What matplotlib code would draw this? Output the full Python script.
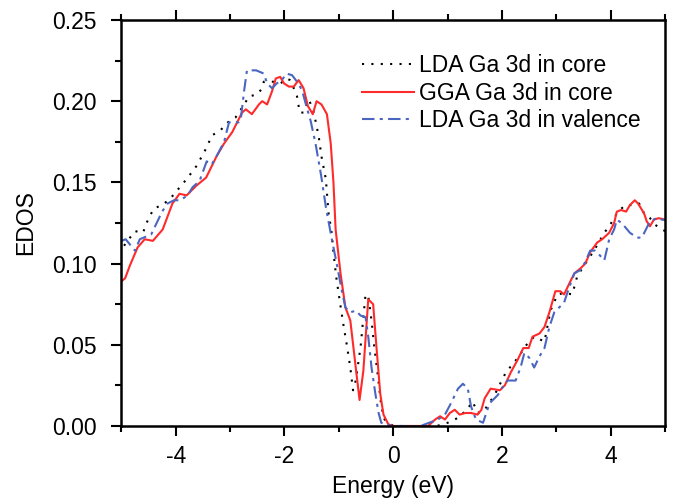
import numpy as np
import matplotlib.pyplot as plt
from matplotlib.ticker import MultipleLocator

# EDOS vs energy for three calculation settings

plt.rcParams['font.family'] = ['Liberation Sans', 'DejaVu Sans']
plt.rcParams['axes.unicode_minus'] = False

# LDA, Ga 3d in core (black dotted)
lda_core_e = [-4.95, -4.84, -4.75, -4.60, -4.55, -4.48, -4.40, -4.25, -4.10, -3.95, -3.80,
              -3.62, -3.47, -3.33, -3.18, -3.04, -2.90, -2.78, -2.65, -2.52, -2.43, -2.38,
              -2.25, -2.16, -2.07, -1.96, -1.90, -1.83, -1.77, -1.72, -1.65, -1.55, -1.46,
              -1.37, -1.32, -1.24, -1.19, -1.14, -1.10, -1.05, -0.98, -0.92, -0.85, -0.79,
              -0.74, -0.69, -0.60, -0.55, -0.51, -0.46, -0.40, -0.35, -0.28, -0.22, -0.16,
              0.0, 0.5, 0.8, 1.0, 1.19, 1.35, 1.46, 1.55, 1.68, 1.86, 2.07, 2.29, 2.45, 2.59,
              2.78, 2.89, 3.02, 3.15, 3.29, 3.38, 3.53, 3.69, 3.88, 3.99, 4.11, 4.26, 4.40,
              4.52, 4.61, 4.72, 4.81, 4.94, 5.0]
lda_core_v = [0.111, 0.116, 0.120, 0.119, 0.124, 0.129, 0.134, 0.136, 0.140, 0.146, 0.152,
              0.160, 0.169, 0.179, 0.182, 0.187, 0.190, 0.196, 0.203, 0.204, 0.207, 0.212,
              0.212, 0.212, 0.211, 0.214, 0.213, 0.208, 0.203, 0.193, 0.193, 0.201, 0.193,
              0.178, 0.166, 0.152, 0.131, 0.121, 0.107, 0.092, 0.076, 0.063, 0.049, 0.036,
              0.022, 0.028, 0.049, 0.067, 0.081, 0.080, 0.065, 0.049, 0.030, 0.012, 0.004,
              0.0, 0.0, 0.0, 0.002, 0.005, 0.010, 0.015, 0.008, 0.010, 0.019, 0.033, 0.042,
              0.050, 0.055, 0.052, 0.071, 0.081, 0.082, 0.081, 0.092, 0.100, 0.108, 0.119,
              0.124, 0.131, 0.136, 0.136, 0.137, 0.131, 0.128, 0.124, 0.121, 0.120]

# GGA, Ga 3d in core (red solid)
gga_core_e = [-5.0, -4.93, -4.84, -4.70, -4.57, -4.42, -4.24, -4.06, -3.93, -3.80, -3.62,
              -3.44, -3.25, -3.11, -2.96, -2.78, -2.71, -2.60, -2.47, -2.41, -2.32, -2.23,
              -2.16, -2.08, -2.01, -1.92, -1.83, -1.74, -1.65, -1.57, -1.48, -1.41, -1.32,
              -1.22, -1.15, -1.10, -1.06, -0.97, -0.88, -0.79, -0.69, -0.62, -0.55, -0.46,
              -0.37, -0.31, -0.24, -0.18, -0.09, 0.0, 0.4, 0.64, 0.77, 0.86, 0.95, 1.04,
              1.13, 1.22, 1.32, 1.43, 1.55, 1.62, 1.68, 1.79, 1.96, 2.05, 2.16, 2.29, 2.39,
              2.49, 2.56, 2.69, 2.78, 2.87, 2.98, 3.07, 3.14, 3.24, 3.33, 3.44, 3.53, 3.62,
              3.75, 3.84, 3.97, 4.06, 4.11, 4.19, 4.28, 4.35, 4.44, 4.50, 4.61, 4.66, 4.72,
              4.79, 4.88, 5.0]
gga_core_v = [0.089, 0.091, 0.099, 0.110, 0.115, 0.114, 0.121, 0.137, 0.143, 0.142, 0.148,
              0.153, 0.166, 0.174, 0.181, 0.193, 0.195, 0.192, 0.198, 0.200, 0.198, 0.206,
              0.214, 0.215, 0.211, 0.209, 0.209, 0.213, 0.208, 0.197, 0.192, 0.200, 0.198,
              0.192, 0.174, 0.150, 0.121, 0.094, 0.073, 0.065, 0.036, 0.016, 0.034, 0.078,
              0.075, 0.049, 0.020, 0.007, 0.001, 0.0, 0.0, 0.0, 0.004, 0.006, 0.004, 0.008,
              0.010, 0.007, 0.008, 0.008, 0.007, 0.010, 0.017, 0.023, 0.022, 0.025, 0.033,
              0.041, 0.048, 0.048, 0.055, 0.057, 0.061, 0.070, 0.083, 0.083, 0.081, 0.088,
              0.094, 0.097, 0.100, 0.107, 0.113, 0.115, 0.119, 0.125, 0.132, 0.133, 0.132,
              0.136, 0.139, 0.137, 0.131, 0.126, 0.123, 0.127, 0.128, 0.127]

# LDA, Ga 3d in valence (blue dash-dot)
lda_val_e = [-5.0, -4.92, -4.75, -4.66, -4.45, -4.35, -4.25, -4.15, -4.03, -3.92, -3.78,
             -3.69, -3.56, -3.43, -3.34, -3.25, -3.11, -3.02, -2.93, -2.84, -2.80, -2.74,
             -2.69, -2.52, -2.38, -2.32, -2.23, -2.14, -2.05, -1.96, -1.86, -1.77, -1.68,
             -1.59, -1.52, -1.43, -1.33, -1.24, -1.13, -1.04, -0.95, -0.88, -0.79, -0.69,
             -0.60, -0.51, -0.46, -0.40, -0.33, -0.27, -0.22, 0.0, 0.5, 0.82, 0.95, 1.06,
             1.19, 1.28, 1.37, 1.43, 1.52, 1.65, 1.77, 1.92, 2.01, 2.10, 2.25, 2.34, 2.41,
             2.50, 2.59, 2.69, 2.78, 2.87, 2.96, 3.05, 3.14, 3.24, 3.33, 3.44, 3.53, 3.62,
             3.71, 3.80, 3.88, 3.97, 4.06, 4.11, 4.20, 4.35, 4.48, 4.57, 4.66, 4.72, 4.84,
             4.95, 5.0]
lda_val_v = [0.114, 0.115, 0.108, 0.115, 0.118, 0.125, 0.132, 0.137, 0.139, 0.139, 0.142,
             0.147, 0.151, 0.163, 0.161, 0.166, 0.175, 0.187, 0.187, 0.187, 0.190, 0.207,
             0.219, 0.219, 0.217, 0.211, 0.208, 0.211, 0.213, 0.217, 0.216, 0.212, 0.207,
             0.196, 0.188, 0.174, 0.155, 0.135, 0.115, 0.100, 0.084, 0.073, 0.070, 0.071,
             0.068, 0.067, 0.055, 0.036, 0.020, 0.008, 0.002, 0.0, 0.0, 0.004, 0.007, 0.014,
             0.023, 0.026, 0.023, 0.012, 0.004, 0.002, 0.014, 0.019, 0.024, 0.028, 0.028,
             0.036, 0.045, 0.042, 0.036, 0.043, 0.048, 0.061, 0.070, 0.073, 0.076, 0.086,
             0.094, 0.096, 0.101, 0.108, 0.108, 0.105, 0.102, 0.115, 0.121, 0.127, 0.125,
             0.119, 0.116, 0.116, 0.122, 0.126, 0.128, 0.127, 0.127]

labels = ["LDA Ga 3d in core", "GGA Ga 3d in core", "LDA Ga 3d in valence"]

fig = plt.figure(figsize=(6.74, 5.0), dpi=100)
ax = fig.add_axes([0.180, 0.148, 0.807, 0.812])

ax.plot(lda_core_e, lda_core_v, color="black", lw=1.5, linestyle=(0, (1, 3.5)), label=labels[0])
ax.plot(gga_core_e, gga_core_v, color="#ff2a2a", lw=1.5, linestyle="-", label=labels[1])
ax.plot(lda_val_e, lda_val_v, color="#4a66c0", lw=1.5, linestyle=(0, (6, 2.5, 1.5, 2.5)), label=labels[2])

ax.set_xlim(-5, 5)
ax.set_ylim(0, 0.25)
ax.xaxis.set_major_locator(MultipleLocator(2))
ax.xaxis.set_minor_locator(MultipleLocator(1))
ax.yaxis.set_major_locator(MultipleLocator(0.05))
ax.yaxis.set_minor_locator(MultipleLocator(0.025))
ax.yaxis.set_major_formatter(plt.FormatStrFormatter('%.2f'))

ax.tick_params(which="both", direction="out", top=True, right=False, width=1.5,
               labelsize=16.5, colors="black")
ax.tick_params(which="major", length=7)
ax.tick_params(which="minor", length=4)
ax.tick_params(axis="x", which="major", pad=6.5)
ax.tick_params(axis="y", which="major", pad=10.5)
for sp in ax.spines.values():
    sp.set_linewidth(1.8)

ax.set_xlabel("Energy (eV)", fontsize=16.5, labelpad=5)
ax.set_ylabel("EDOS", fontsize=16.5, labelpad=11)

ax.legend(loc="upper right", bbox_to_anchor=(0.98, 0.95), frameon=False, fontsize=16.5,
          handlelength=2.3, handletextpad=0.2, labelspacing=0.2, borderaxespad=0.2)

fig.savefig("out.png", dpi=100)
